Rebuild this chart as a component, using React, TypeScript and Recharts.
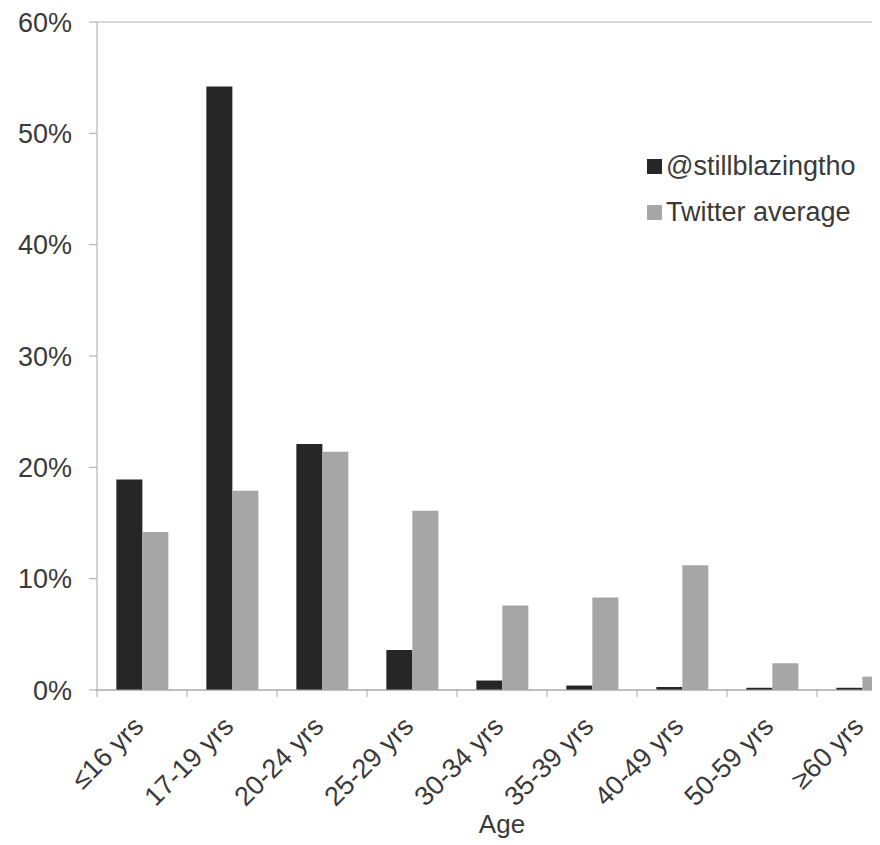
import { BarChart, Bar, XAxis, YAxis, CartesianGrid, Legend } from 'recharts';

const AGE_GROUPS = ['≤16 yrs', '17-19 yrs', '20-24 yrs', '25-29 yrs', '30-34 yrs', '35-39 yrs', '40-49 yrs', '50-59 yrs', '≥60 yrs'];
const ACCOUNT = [18.9, 54.2, 22.1, 3.6, 0.85, 0.4, 0.27, 0.2, 0.2];
const TWITTER_AVG = [14.2, 17.9, 21.4, 16.1, 7.6, 8.3, 11.2, 2.4, 1.2];
const Y_TICKS = [0, 10, 20, 30, 40, 50, 60];
const GRID_TICKS = [10, 20, 30, 40, 50];

const SERIES = [
  { key: 'account', name: '@stillblazingtho', color: '#262626' },
  { key: 'twitter', name: 'Twitter average', color: '#a6a6a6' },
];

const data = AGE_GROUPS.map((age, i) => ({ age, account: ACCOUNT[i], twitter: TWITTER_AVG[i] }));

const FONT = '"Liberation Sans", Arial, sans-serif';
const TEXT = '#3a3a3a';
const AXIS = '#a6a6a6';

function AgeTick({ x, y, payload }: any) {
  const half = payload?.offset ?? 45;
  return (
    <g>
      <line x1={x - half} y1={y} x2={x - half} y2={y + 7} stroke={AXIS} />
      <text
        x={x + 3}
        y={y + 38}
        textAnchor="end"
        transform={`rotate(-45, ${x + 3}, ${y + 38})`}
        fontFamily={FONT}
        fontSize={27}
        fill={TEXT}
      >
        {payload.value}
      </text>
    </g>
  );
}

function LegendBox() {
  return (
    <div style={{ fontFamily: FONT, fontSize: 27, color: TEXT, lineHeight: '46px' }}>
      {SERIES.map((s) => (
        <div key={s.key} style={{ display: 'flex', alignItems: 'center', whiteSpace: 'nowrap' }}>
          <span style={{ display: 'inline-block', width: 15, height: 15, background: s.color, marginRight: 4 }} />
          <span>{s.name}</span>
        </div>
      ))}
    </div>
  );
}

export default function App() {
  return (
    <div style={{ width: 872, height: 837, overflow: 'hidden' }}>
      <BarChart
        width={910}
        height={837}
        data={data}
        margin={{ top: 14, right: 11, bottom: 0, left: 0 }}
        barCategoryGap="21.5%"
        barGap={0}
      >
        <CartesianGrid vertical={false} stroke="#b3b3b3" yAxisId="grid" />
        <XAxis
          dataKey="age"
          height={155}
          interval={0}
          tickSize={0}
          tickMargin={0}
          tick={<AgeTick />}
          stroke={AXIS}
          label={{ value: 'Age', position: 'insideBottom', offset: 12, fontFamily: FONT, fontSize: 26, fill: TEXT }}
        />
        <YAxis
          width={89}
          domain={[0, 60]}
          ticks={Y_TICKS}
          interval={0}
          tickFormatter={(v: number) => `${v}%`}
          tickSize={8}
          tickMargin={17}
          stroke={AXIS}
          tick={{ fontFamily: FONT, fontSize: 27, fill: TEXT }}
        />
        <YAxis yAxisId="grid" hide domain={[0, 60]} ticks={GRID_TICKS} interval={0} />
        <Legend
          layout="vertical"
          align="center"
          verticalAlign="middle"
          content={<LegendBox />}
          wrapperStyle={{ top: 135, left: 639, width: 'auto' }}
        />
        {SERIES.map((s) => (
          <Bar key={s.key} dataKey={s.key} name={s.name} fill={s.color} isAnimationActive={false} />
        ))}
      </BarChart>
    </div>
  );
}
